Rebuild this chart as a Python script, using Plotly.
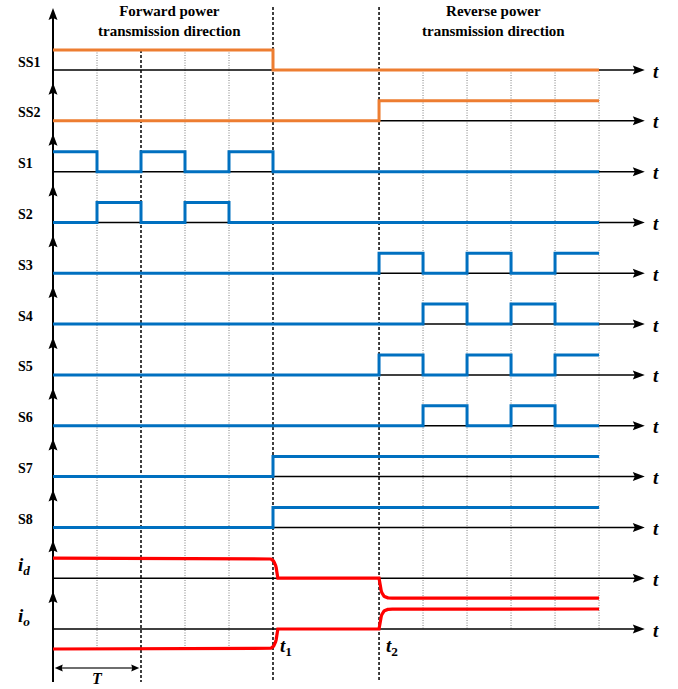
import numpy as np
import plotly.graph_objects as go

# ---------------------------------------------------------------
# Switching timing diagram of the bidirectional converter.
# Time is measured in half switching periods from the start.
# ---------------------------------------------------------------
T1 = 5.0       # forward power flow stops
T2 = 7.41      # reverse power flow starts
T_END = 12.41  # end of the drawn window

row_names = ["SS1", "SS2", "S1", "S2", "S3", "S4", "S5", "S6", "S7", "S8",
             "<b><i>i</i><sub><i>d</i></sub></b>", "<b><i>i</i><sub><i>o</i></sub></b>"]

# edge instants and the logic level held after each edge
ss1_edges = [0, 5.0, 12.41]
ss1_levels = [1, 0]
ss2_edges = [0, 7.41, 12.41]
ss2_levels = [0, 1]
s1_edges = [0, 1, 2, 3, 4, 5.0, 12.41]
s1_levels = [1, 0, 1, 0, 1, 0]
s2_edges = [0, 1, 2, 3, 4, 12.41]
s2_levels = [0, 1, 0, 1, 0]
s3_edges = [0, 7.41, 8.41, 9.41, 10.41, 11.41, 12.41]
s3_levels = [0, 1, 0, 1, 0, 1]
s4_edges = [0, 8.41, 9.41, 10.41, 11.41, 12.41]
s4_levels = [0, 1, 0, 1, 0]
s5_edges = [0, 7.41, 8.41, 9.41, 10.41, 11.41, 12.41]
s5_levels = [0, 1, 0, 1, 0, 1]
s6_edges = [0, 8.41, 9.41, 10.41, 11.41, 12.41]
s6_levels = [0, 1, 0, 1, 0]
s7_edges = [0, 5.0, 12.41]
s7_levels = [0, 1]
s8_edges = [0, 5.0, 12.41]
s8_levels = [0, 1]

# currents: normalised level held in each interval
id_edges = [0, 5.0, 7.41, 12.41]
id_levels = [1, 0, -1]
io_edges = [0, 5.0, 7.41, 12.41]
io_levels = [-1, 0, 1]

# vertical guide lines
forward_grid = [1, 3, 4]
period_mark = 2
reverse_grid = [8.41, 9.41, 10.41, 11.41, 12.41]

ORANGE = "#ED7D31"
BLUE = "#0070C0"
RED = "#FF0000"
SERIF = "Liberation Serif"

signals = [
    (ss1_edges, ss1_levels, ORANGE), (ss2_edges, ss2_levels, ORANGE),
    (s1_edges, s1_levels, BLUE), (s2_edges, s2_levels, BLUE),
    (s3_edges, s3_levels, BLUE), (s4_edges, s4_levels, BLUE),
    (s5_edges, s5_levels, BLUE), (s6_edges, s6_levels, BLUE),
    (s7_edges, s7_levels, BLUE), (s8_edges, s8_levels, BLUE),
    (id_edges, id_levels, RED), (io_edges, io_levels, RED),
]

# ---- canvas / axis geometry ----
W, H = 678, 689
X_RANGE = [-1.2045, 14.2045]
Y_RANGE = [-30.95, 3.5]
PXX = W / (X_RANGE[1] - X_RANGE[0])   # pixels per time unit
PXY = H / (Y_RANGE[1] - Y_RANGE[0])   # pixels per level unit
ROW_GAP = 2.541
AXIS_END = 13.45
TOP = 3.1
BOTTOM = -30.6
TAU = 0.05

base = [-k * ROW_GAP for k in range(len(row_names))]


def step_path(edges, levels, y0, smooth=False):
    xs, ys = [edges[0]], [y0 + levels[0]]
    for k in range(1, len(levels)):
        a, prev, new = edges[k], levels[k - 1], levels[k]
        if not smooth:
            xs += [a, a]
            ys += [y0 + prev, y0 + new]
        elif k == 1:
            # slow start, then a steep finish
            xe = a + 0.11
            s = np.linspace(-6 * TAU, 0, 25)
            frac = np.exp(s / TAU)
            xs += [a - 0.08] + list(xe + s)
            ys += [y0 + prev] + list(y0 + prev + (new - prev) * frac)
        else:
            # steep start, exponential settling
            s = np.linspace(0, 6 * TAU, 25)
            frac = 1 - np.exp(-s / TAU)
            xs += list(a + s)
            ys += list(y0 + prev + (new - prev) * frac)
    xs.append(edges[-1])
    ys.append(y0 + levels[-1])
    return xs, ys


def head_path(xt, yt, direction, length=12, half=4.5, notch=2.0):
    L, hw, n = length, half, notch
    if direction == "up":
        pts = [(xt, yt), (xt - hw / PXX, yt - L / PXY),
               (xt, yt - (L - n) / PXY), (xt + hw / PXX, yt - L / PXY)]
    elif direction == "right":
        pts = [(xt, yt), (xt - L / PXX, yt + hw / PXY),
               (xt - (L - n) / PXX, yt), (xt - L / PXX, yt - hw / PXY)]
    else:  # left
        pts = [(xt, yt), (xt + L / PXX, yt + hw / PXY),
               (xt + (L - n) / PXX, yt), (xt + L / PXX, yt - hw / PXY)]
    return "M " + " L ".join(f"{x:.4f},{y:.4f}" for x, y in pts) + " Z"


fig = go.Figure()
shapes = []
annotations = []


def vline(x, y0, y1, color, width, dash):
    fig.add_trace(go.Scatter(x=[x, x], y=[y0, y1], mode="lines",
                             line=dict(color=color, width=width, dash=dash),
                             hoverinfo="skip"))


# guide lines
for g in forward_grid:
    vline(g, 1, base[-1] - 1, "#7f7f7f", 1, "1px,1.5px")
vline(period_mark, 1, BOTTOM, "#111111", 1.6, "3px,2px")
for g in reverse_grid:
    vline(g, 0, base[-1], "#7f7f7f", 1, "1px,1.5px")
vline(T1, 3.15, BOTTOM, "#111111", 1.6, "3px,2px")
vline(T2, 3.15, BOTTOM, "#111111", 1.6, "3px,2px")

# time axes
fig.add_trace(go.Scatter(x=[0, 0], y=[TOP - 0.3, BOTTOM], mode="lines",
                         line=dict(color="black", width=2), hoverinfo="skip"))
for k, y0 in enumerate(base):
    fig.add_trace(go.Scatter(x=[0, AXIS_END - 0.2], y=[y0, y0], mode="lines",
                             line=dict(color="black", width=1.5), hoverinfo="skip"))
    shapes.append(dict(type="path", path=head_path(AXIS_END, y0, "right"),
                       xref="x", yref="y", fillcolor="black",
                       line=dict(width=0), layer="above"))
    tip = TOP if k == 0 else y0 + 1.9
    shapes.append(dict(type="path", path=head_path(0, tip, "up"),
                       xref="x", yref="y", fillcolor="black",
                       line=dict(width=0), layer="above"))
    annotations.append(dict(x=13.58, y=y0 - 0.05, xref="x", yref="y",
                            text="<b><i>t</i></b>", showarrow=False,
                            xanchor="left", yanchor="middle",
                            font=dict(family=SERIF, size=19, color="black")))
    is_current = k >= 10
    annotations.append(dict(x=-0.84, y=y0 + (0.6 if is_current else 0.4),
                            xref="x", yref="y",
                            text=row_names[k] if is_current else f"<b>{row_names[k]}</b>",
                            showarrow=False, xanchor="left", yanchor="middle",
                            font=dict(family=SERIF, size=19 if is_current else 14,
                                      color="black")))

# waveforms
for k, (edges, levels, color) in enumerate(signals):
    xs, ys = step_path(edges, levels, base[k], smooth=(color == RED))
    fig.add_trace(go.Scatter(x=xs, y=ys, mode="lines",
                             line=dict(color=color, width=3.2 if color == RED else 3),
                             hoverinfo="skip"))

# period dimension arrow
y_dim = -29.9
fig.add_trace(go.Scatter(x=[0.1, period_mark - 0.1], y=[y_dim, y_dim], mode="lines",
                         line=dict(color="#6e6e6e", width=2), hoverinfo="skip"))
shapes.append(dict(type="path", path=head_path(0.04, y_dim, "left", 8, 3.5, 1.0),
                   xref="x", yref="y", fillcolor="black", line=dict(width=0)))
shapes.append(dict(type="path", path=head_path(period_mark - 0.04, y_dim, "right", 8, 3.5, 1.0),
                   xref="x", yref="y", fillcolor="black", line=dict(width=0)))
annotations.append(dict(x=period_mark / 2, y=-30.4, xref="x", yref="y",
                        text="<b><i>T</i></b>", showarrow=False,
                        yanchor="middle",
                        font=dict(family=SERIF, size=16, color="black")))

# switching instants
for tx, sub in [(T1, "1"), (T2, "2")]:
    annotations.append(dict(x=tx + 0.12, y=-28.85, xref="x", yref="y",
                            text=f"<b><i>t</i><sub>{sub}</sub></b>", showarrow=False,
                            xanchor="left", yanchor="middle",
                            font=dict(family=SERIF, size=19, color="black")))

# operating-mode titles
annotations.append(dict(x=2.64, y=2.45, xref="x", yref="y",
                        text="<b>Forward power<br>transmission direction</b>",
                        showarrow=False, align="center",
                        font=dict(family=SERIF, size=15, color="black")))
annotations.append(dict(x=10.02, y=2.45, xref="x", yref="y",
                        text="<b>Reverse power<br>transmission direction</b>",
                        showarrow=False, align="center",
                        font=dict(family=SERIF, size=15, color="black")))

fig.update_layout(
    width=W, height=H, autosize=False,
    margin=dict(l=0, r=0, t=0, b=0, pad=0),
    paper_bgcolor="white", plot_bgcolor="white",
    showlegend=False,
    xaxis=dict(range=X_RANGE, visible=False, fixedrange=True),
    yaxis=dict(range=Y_RANGE, visible=False, fixedrange=True),
    shapes=shapes, annotations=annotations,
)

fig.write_html("out.html")
